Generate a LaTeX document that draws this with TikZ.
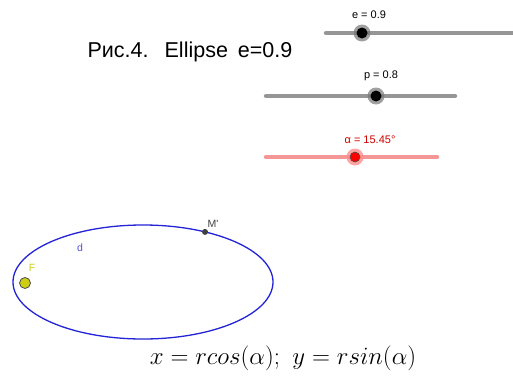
\documentclass[tikz,border=0pt]{standalone}
\usepackage{fontspec}
\usepackage{amsmath}
\usetikzlibrary{calc}
\newfontfamily\arialfont{Liberation Sans}
\definecolor{ellblue}{RGB}{35,35,215}
\definecolor{slgray}{RGB}{150,150,150}
\definecolor{slred}{RGB}{244,150,150}
\definecolor{fyellow}{RGB}{205,205,20}
\tikzset{
  sliderline/.style={line width=4.5pt,line cap=round},
  sllabel/.style={font=\arialfont\fontsize{11}{13}\selectfont,inner sep=0pt},
  knob/.style={circle,fill=black,inner sep=0pt,minimum size=11pt},
  halo/.style={circle,fill=slgray!80!black,opacity=0.7,inner sep=0pt,minimum size=17pt}
}
\begin{document}
\begin{tikzpicture}[x=1pt,y=1pt]
 \useasboundingbox (0,0) rectangle (513,376);
 % title
 \node[font=\arialfont\fontsize{21.5}{25}\selectfont,inner sep=0pt] (title) at (190,324) {Рис.4.\hspace{16pt}Ellipse\hspace{10pt}e=0.9};
 % slider e
 \coordinate (e1) at (326,343);
 \coordinate (e2) at (515,343);
 \draw[sliderline,slgray] (e1) -- (e2);
 \node[halo] (eh) at (362,343) {};
 \node[knob] (ek) at (eh) {};
 \node[sllabel] (el) at (369,361) {e = 0.9};
 % slider p
 \coordinate (p1) at (266,280);
 \coordinate (p2) at (455,280);
 \draw[sliderline,slgray] (p1) -- (p2);
 \node[halo] (ph) at (376,280) {};
 \node[knob] (pk) at (ph) {};
 \node[sllabel] (pl) at (381,300) {p = 0.8};
 % slider alpha
 \coordinate (a1) at (266,219);
 \coordinate (a2) at (437,219);
 \draw[sliderline,slred] (a1) -- (a2);
 \node[halo,fill=red!45,opacity=0.8] (ah) at (355,219) {};
 \node[knob,fill=red,draw=black!70,line width=0.6pt,minimum size=10pt] (ak) at (ah) {};
 \node[sllabel,text=red!80!black] (al) at (370,236) {α = 15.45°};
 % ellipse
 \coordinate (O) at (143,94);
 \draw[ellblue,line width=1.3pt] (O) ellipse [x radius=130,y radius=57];
 \coordinate (M) at ($(O)+(61.5:130 and 57)$);
 \node[circle,fill=black!75,inner sep=0pt,minimum size=6pt] (Mp) at (M) {};
 \node[sllabel,font=\arialfont\fontsize{10.5}{12}\selectfont,text=black!75] (Ml) at (213,152) {M'};
 \node[sllabel,font=\arialfont\fontsize{10.5}{12}\selectfont,text=ellblue!80] (d) at (80,128) {d};
 \node[circle,fill=fyellow,draw=black!70,line width=0.8pt,inner sep=0pt,minimum size=11pt] (F) at (25,93) {};
 \node[sllabel,font=\arialfont\fontsize{10.5}{12}\selectfont,text=fyellow] (Fl) at (32,108) {F};
 % formula
 \node[font=\fontsize{27}{31}\selectfont,inner sep=0pt] (formula) at (283,18) {$x = rcos(\alpha);\ y = rsin(\alpha)$};
\end{tikzpicture}
\end{document}
